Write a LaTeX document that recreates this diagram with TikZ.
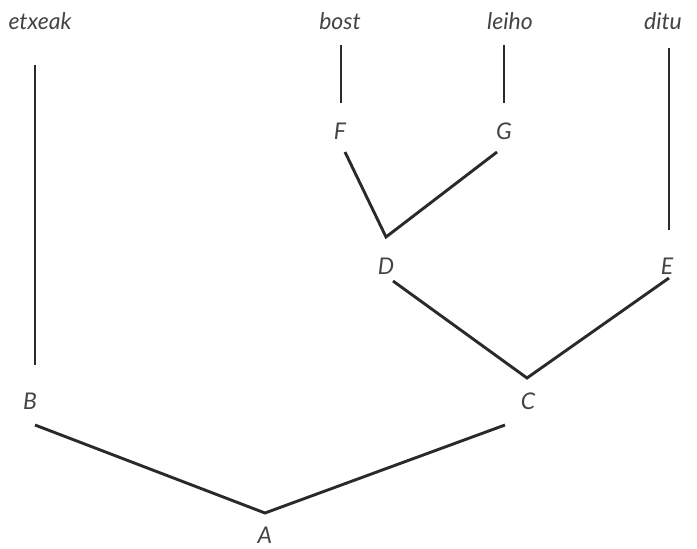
\documentclass[tikz,border=0pt]{standalone}
\usepackage{fontspec}
\setmainfont{Lato}
\usetikzlibrary{calc}
\definecolor{ink}{HTML}{2A2A2A}
\definecolor{txt}{HTML}{444444}
\tikzset{
  lbl/.style={font=\fontsize{23}{26}\selectfont\itshape, text=txt, inner sep=0pt},
  edge/.style={draw=ink, line width=2.9pt, line join=miter, line cap=butt}
}
\begin{document}
\begin{tikzpicture}[x=1pt,y=-1pt]
\useasboundingbox (0,0) rectangle (697,549);
\node[lbl] (etxeak) at (40,21) {etxeak};
\node[lbl] (bost) at (340,21) {bost};
\node[lbl] (leiho) at (510,21) {leiho};
\node[lbl] (ditu) at (663,21) {ditu};
\node[lbl] (F) at (340,131) {F};
\node[lbl] (G) at (504,131) {G};
\node[lbl] (D) at (386,266) {D};
\node[lbl] (E) at (667,266) {E};
\node[lbl] (B) at (30,401) {B};
\node[lbl] (C) at (528,401) {C};
\node[lbl] (A) at (265,535) {A};
\draw[edge] ($(etxeak)+(-5,44)$) -- ($(B)+(5,-36)$);
\draw[edge] ($(bost)+(1,24)$) -- ($(F)+(1,-28)$);
\draw[edge] ($(leiho)+(-6,24)$) -- ($(G)+(0,-28)$);
\draw[edge] ($(ditu)+(6,27)$) -- ($(E)+(2,-36)$);
\draw[edge] ($(F)+(5,21)$) -- ($(D)+(0,-29)$) -- ($(G)+(-7,21)$);
\draw[edge] ($(D)+(7,15)$) -- ($(C)+(-1,-23)$) -- ($(E)+(2,12)$);
\draw[edge] ($(B)+(5,24)$) -- ($(A)+(0,-22)$) -- ($(C)+(-23,24)$);
\end{tikzpicture}
\end{document}
